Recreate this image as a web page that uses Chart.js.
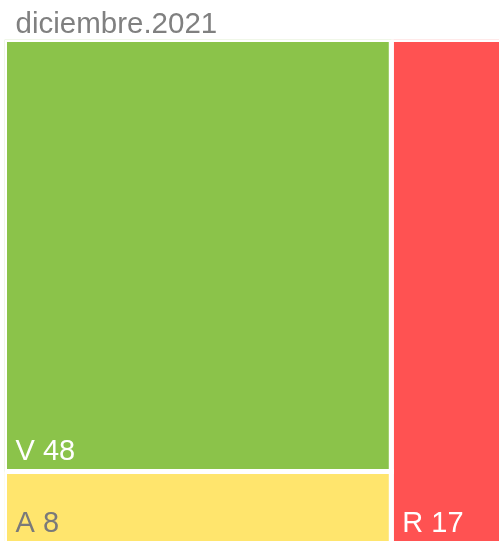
<!DOCTYPE html>
<html>
<head>
<meta charset="utf-8">
<script src="https://cdn.jsdelivr.net/npm/chart.js@4"></script>
<style>
  html, body { margin: 0; padding: 0; overflow: hidden; background: #fff; }
</style>
</head>
<body>
<canvas id="tree" width="510" height="544"></canvas>
<script>
const title = "diciembre.2021";
const labels = ["V", "A", "R"];
const values = [48, 8, 17];
const colors = ["#8bc34a", "#ffe56d", "#ff5252"];
const textColors = ["#ffffff", "#7a7a7a", "#ffffff"];

// slice layout: V and A share the left column, R takes the right column
const total = values.reduce((a, b) => a + b, 0);
const leftW = values[0] + values[1];
const splitY = values[1] / leftW;
const rects = [
  { x0: 0, x1: leftW, y0: splitY, y1: 1 },
  { x0: 0, x1: leftW, y0: 0, y1: splitY },
  { x0: leftW, x1: total, y0: 0, y1: 1 }
];

const datasets = rects.map((r, i) => ({
  label: labels[i] + " " + values[i],
  data: [
    { x: r.x0, y: r.y0 }, { x: r.x0, y: r.y1 },
    { x: r.x1, y: r.y1 }, { x: r.x1, y: r.y0 },
    { x: r.x0, y: r.y0 }
  ],
  rect: r,
  showLine: true,
  fill: "shape",
  backgroundColor: colors[i],
  borderColor: "#ffffff",
  borderWidth: 5,
  borderJoinStyle: "miter",
  pointRadius: 0,
  pointHoverRadius: 0,
  tension: 0
}));

const tileLabels = {
  id: "tileLabels",
  afterDatasetsDraw(chart) {
    const ctx = chart.ctx;
    const xs = chart.scales.x, ys = chart.scales.y;
    ctx.save();
    ctx.font = "29px 'Liberation Sans', Arial, sans-serif";
    ctx.textBaseline = "alphabetic";
    ctx.textAlign = "left";
    chart.data.datasets.forEach((ds, i) => {
      const px = xs.getPixelForValue(ds.rect.x0) + 11;
      const py = ys.getPixelForValue(ds.rect.y0) - 12;
      ctx.fillStyle = textColors[i];
      ctx.fillText(ds.label, px, py);
    });
    // title
    ctx.font = "29.5px 'Liberation Sans', Arial, sans-serif";
    ctx.fillStyle = "#808080";
    ctx.fillText(title, 15.5, 32.5);
    ctx.restore();
  }
};

new Chart(document.getElementById("tree"), {
  type: "scatter",
  data: { datasets },
  options: {
    responsive: false,
    animation: false,
    layout: { padding: { left: 4.5, top: 39.5, right: 1.3, bottom: 0.5 } },
    plugins: { legend: { display: false }, tooltip: { enabled: false } },
    scales: {
      x: { type: "linear", min: 0, max: total, display: false },
      y: { type: "linear", min: 0, max: 1, display: false }
    }
  },
  plugins: [tileLabels]
});
</script>
</body>
</html>
